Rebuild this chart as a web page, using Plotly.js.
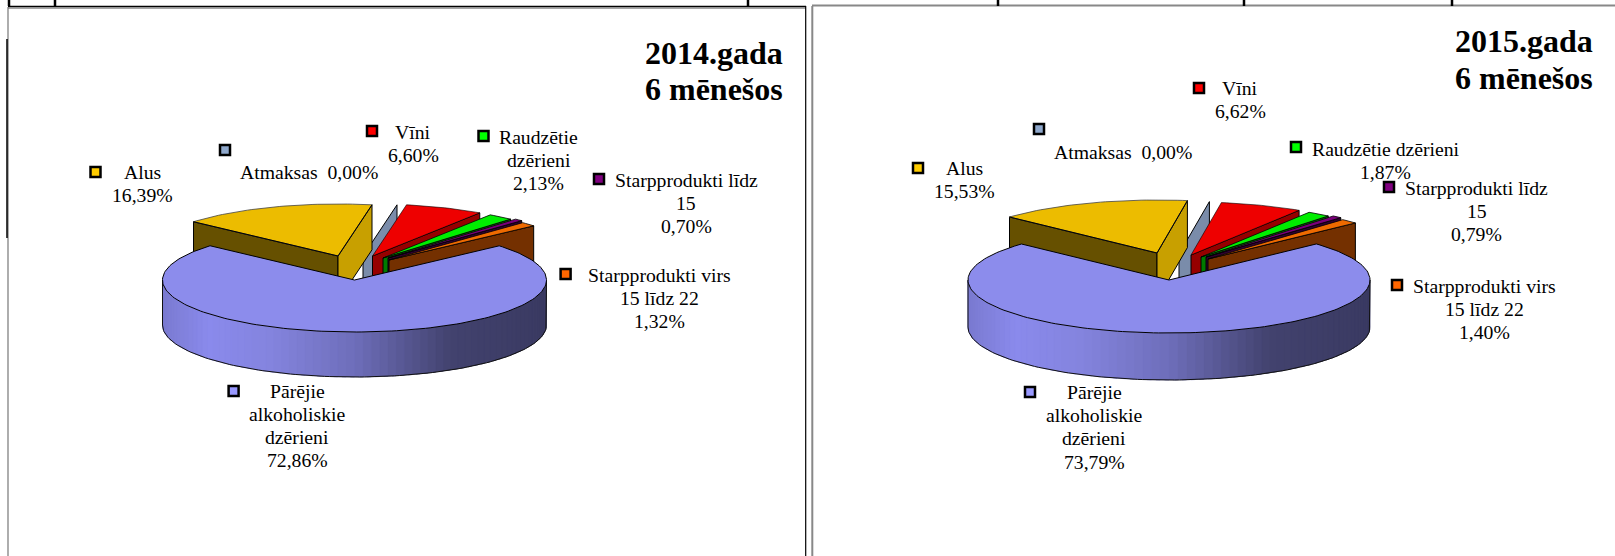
<!DOCTYPE html>
<html>
<head>
<meta charset="utf-8">
<script src="https://cdn.plot.ly/plotly-3.0.1.min.js"></script>
<style>html,body{margin:0;padding:0;background:#fff;overflow:hidden}#chart{width:1615px;height:556px}</style>
</head>
<body>
<div id="chart"></div>
<script>
// ---- data ----
const categories = ["Vīni", "Raudzētie dzērieni", "Starpprodukti līdz 15", "Starpprodukti virs 15 līdz 22", "Pārējie alkoholiskie dzērieni", "Alus", "Atmaksas"];
const values2014 = [6.60, 2.13, 0.70, 1.32, 72.86, 16.39, 0.00];
const values2015 = [6.62, 1.87, 0.79, 1.40, 73.79, 15.53, 0.00];
const labelLines2014 = [["Vīni","6,60%"],["Raudzētie","dzērieni","2,13%"],["Starpprodukti līdz","15","0,70%"],["Starpprodukti virs","15 līdz 22","1,32%"],["Pārējie","alkoholiskie","dzērieni","72,86%"],["Alus","16,39%"],["Atmaksas  0,00%"]];
const labelLines2015 = [["Vīni","6,62%"],["Raudzētie dzērieni","1,87%"],["Starpprodukti līdz","15","0,79%"],["Starpprodukti virs","15 līdz 22","1,40%"],["Pārējie","alkoholiskie","dzērieni","73,79%"],["Alus","15,53%"],["Atmaksas  0,00%"]];
const titles = ["2014.gada", "6 mēnešos", "2015.gada", "6 mēnešos"];

// ---- styles ----
const topColors  = ["#EE0000","#00EE00","#7A007A","#EE6A00","#8C8CEC","#ECBC00","#8A9CBC"];
const wallColors = ["#960000","#007A00","#300030","#743000","#8C8CEC","#C8A000","#7A8CAA"];
const keyColors  = ["#FF0000","#00FF00","#800080","#FF6600","#9999FF","#FFCC00","#8FA8CC"];
const alusBack = "#665000";
const gradStops = [[0,[122,122,208]],[0.12,[138,138,236]],[0.28,[132,132,222]],[0.5,[110,110,186]],[0.75,[66,66,110]],[1,[58,58,98]]];

// ---- panel layout (page pixels) ----
const panels = [
 {values: values2014, lines: labelLines2014, cx:354.5, cy:280, rx:192, ry:52, depth:45, start:10.2,
  apex:[[372.5,256],[383,258],[388,258],[389,260],null,[338,256],[363,256]],
  keys:[[372,131],[483.5,136],[599,179],[565.6,274],[233.6,391],[95.5,172],[225,150]],
  text:[[413,131.5],[538.5,136.5],[686,179.5],[659,275],[297,390.5],[142.5,172],[309,172]],
  titleRight:785, titleY:[53,89]},
 {values: values2015, lines: labelLines2015, cx:1169, cy:280, rx:201, ry:53, depth:47, start:8.7,
  apex:[[1191,255],[1201,257],[1206,257],[1208,259],null,[1157,253],[1179,254]],
  keys:[[1199,88],[1296,147],[1389,187],[1397,285],[1030,392],[918,168],[1039,129]],
  text:[[1240,88],[1385.5,148.5],[1476.5,187.5],[1484,286],[1094,392],[964.5,168],[1123,152]],
  titleRight:1595, titleY:[41,78]}
];
const lineGap = 23.2;

const traces = [];
const annotations = [];
const rad = d => d*Math.PI/180;
function onEllipse(p, c, deg){ return [c[0]+p.rx*Math.sin(rad(deg)), c[1]-p.ry*Math.cos(rad(deg))]; }
function poly(pts, fill, lineColor, width){
  const xs = pts.map(q=>q[0]), ys = pts.map(q=>q[1]);
  xs.push(xs[0]); ys.push(ys[0]);
  traces.push({type:"scatter",mode:"lines",x:xs,y:ys,fill:"toself",fillcolor:fill,
    line:{color:lineColor===undefined?"#000":lineColor,width:width===undefined?1:width},
    hoverinfo:"skip",showlegend:false});
}
function path(pts, color, width){
  traces.push({type:"scatter",mode:"lines",x:pts.map(q=>q[0]),y:pts.map(q=>q[1]),
    line:{color:color,width:width},hoverinfo:"skip",showlegend:false});
}
function arc(p, c, a, b){
  const out=[], n=Math.max(2,Math.ceil(Math.abs(b-a)/1.5));
  for(let i=0;i<=n;i++) out.push(onEllipse(p,c,a+(b-a)*i/n));
  return out;
}
function wall(p, c, deg, color){
  const o = onEllipse(p,c,deg);
  poly([c,o,[o[0],o[1]+p.depth],[c[0],c[1]+p.depth]], color);
}
function gradColor(t){
  for(let i=1;i<gradStops.length;i++){
    if(t<=gradStops[i][0]){
      const a=gradStops[i-1], b=gradStops[i], f=(t-a[0])/(b[0]-a[0]);
      const m=a[1].map((v,k)=>Math.round(v+(b[1][k]-v)*f));
      return "rgb("+m.join(",")+")";
    }
  }
  return "rgb("+gradStops[gradStops.length-1][1].join(",")+")";
}

panels.forEach(p=>{
  // slice angles derive from the values
  const angles=[]; let a=p.start;
  p.values.forEach(v=>{ angles.push([a,a+v*3.6]); a+=v*3.6; });
  const c0=[p.cx,p.cy];

  // Atmaksas: zero-width slice, only a wall
  wall(p,p.apex[6],angles[6][0],wallColors[6]);

  // Alus
  const ac=p.apex[5], [as,ae]=angles[5];
  wall(p,ac,as,alusBack);
  wall(p,ac,ae,wallColors[5]);
  poly([ac].concat(arc(p,ac,as,ae)), topColors[5], "#444", 0.8);
  path([onEllipse(p,ac,as),ac,onEllipse(p,ac,ae)],"#000",1);

  // the four small slices, back to front
  for(let i=0;i<4;i++){
    const c=p.apex[i], [s,e]=angles[i];
    wall(p,c,e,wallColors[i]);
    poly([c].concat(arc(p,c,s,e)), topColors[i], "#000", i===0?0.6:0.8);
  }

  // main slice: front wall with gradient strips
  const bs=angles[4][0], be=angles[4][1], step=2.5;
  for(let d=90;d<270;d+=step){
    const d2=Math.min(270,d+step*1.5);
    const u=onEllipse(p,c0,d), v=onEllipse(p,c0,d2);
    const mid=onEllipse(p,c0,d+step/2);
    const t=(mid[0]-(p.cx-p.rx))/(2*p.rx);
    const col=gradColor(t);
    poly([u,v,[v[0],v[1]+p.depth],[u[0],u[1]+p.depth]],col,col,0.5);
  }
  const low=arc(p,[p.cx,p.cy+p.depth],90,270);
  path([onEllipse(p,c0,90)].concat(low).concat([onEllipse(p,c0,270)]),"#111",1);
  // main slice: top face
  poly([c0].concat(arc(p,c0,bs,be)), topColors[4], "#000", 1);

  // legend keys and labels
  p.keys.forEach((k,i)=>{
    traces.push({type:"scatter",mode:"markers",x:[k[0]],y:[k[1]],
      marker:{symbol:"square",size:10,color:keyColors[i],line:{color:"#000",width:2.5}},
      hoverinfo:"skip",showlegend:false});
  });
  p.lines.forEach((ls,i)=>{
    ls.forEach((t,j)=>annotations.push({x:p.text[i][0],y:p.text[i][1]+j*lineGap,xref:"x",yref:"y",
      text:t,showarrow:false,xanchor:"center",yanchor:"middle",
      font:{family:"'Liberation Serif',serif",size:19.7,color:"#000"}}));
  });
});

// panel titles
panels.forEach((p,i)=>{
  [0,1].forEach(j=>annotations.push({x:p.titleRight,y:p.titleY[j],xref:"x",yref:"y",
    text:"<b>"+titles[i*2+j]+"</b>",showarrow:false,xanchor:"right",yanchor:"middle",
    font:{family:"'Liberation Serif',serif",size:32,color:"#000"}}));
});

// page frame lines
const seg=(x0,y0,x1,y1,c,w)=>({type:"line",xref:"x",yref:"y",x0,y0,x1,y1,line:{color:c,width:w}});
const shapes=[
  seg(8,6.5,806,6.5,"#000",1.5), seg(8,8,806,8,"#888",1.5),
  seg(812,5.5,1615,5.5,"#888",2),
  seg(8,7,8,556,"#777",1.2), seg(7,39,7,238,"#000",1.5),
  seg(805.7,6,805.7,556,"#000",1.2), seg(812.3,6,812.3,556,"#888",2),
  seg(9,0,9,6,"#000",2.5), seg(55,0,55,6,"#000",2.5), seg(748,0,748,6,"#000",2.5),
  seg(998,0,998,6,"#000",2.5), seg(1244,0,1244,6,"#000",2.5), seg(1452,0,1452,6,"#000",2.5)
];

Plotly.newPlot("chart",traces,{
  width:1615,height:556,margin:{l:0,r:0,t:0,b:0},
  paper_bgcolor:"#fff",plot_bgcolor:"#fff",showlegend:false,
  xaxis:{range:[0,1615],visible:false,fixedrange:true},
  yaxis:{range:[556,0],visible:false,fixedrange:true},
  annotations:annotations,shapes:shapes
},{displayModeBar:false,staticPlot:true});
</script>
</body>
</html>
